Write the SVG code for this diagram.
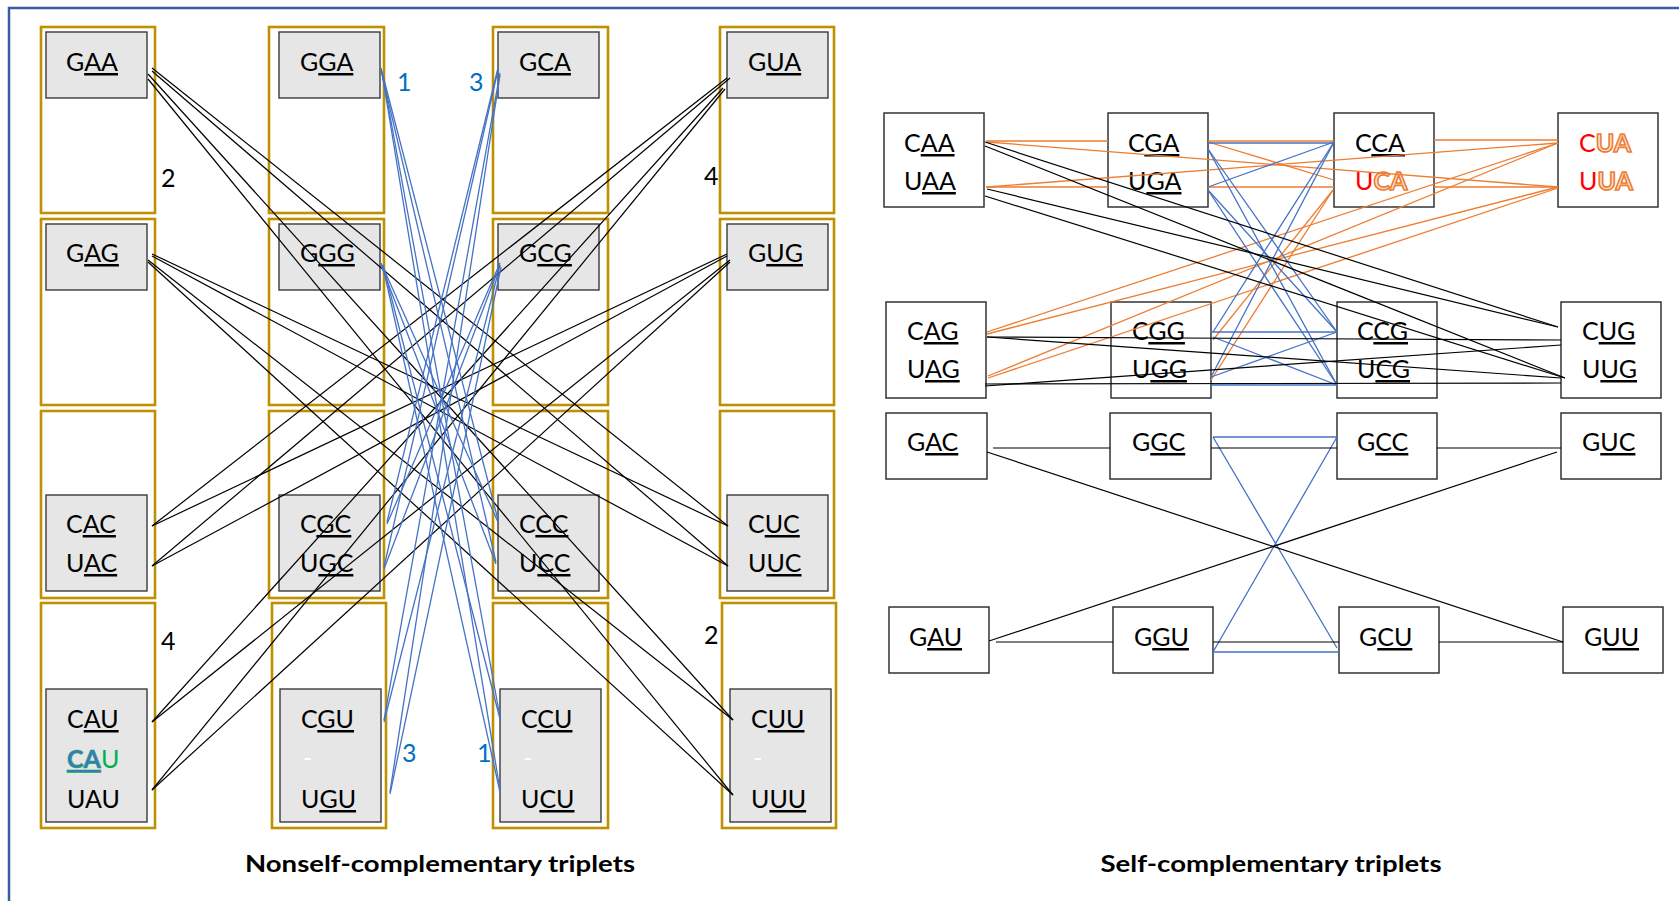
<svg xmlns="http://www.w3.org/2000/svg" width="1679" height="901" viewBox="0 0 1679 901">
<style>
.frame{fill:none;stroke:#3B5C9E;stroke-width:2.5}
.gold{fill:none;stroke:#BF9000;stroke-width:2.6}
.gray{fill:#E6E6E6;stroke:#3A3A3A;stroke-width:1.4}
.box{fill:#FFFFFF;stroke:#333333;stroke-width:1.5}
.t{font-family:Lato,"Liberation Sans",sans-serif;font-size:25px;fill:#000000}
.u{text-decoration:underline}
.num{font-family:Lato,"Liberation Sans",sans-serif;font-size:25px;fill:#000000}
.bnum{fill:#0070C0}
.title{font-family:Lato,"Liberation Sans",sans-serif;font-size:23px;font-weight:bold;fill:#000000}
.red{fill:#FF0000}
.ol{fill:#FCE4D6;stroke:#ED7D31;stroke-width:1.6;font-weight:bold}
.dash{fill:#FFFFFF}
.k line{stroke:#000000;stroke-width:1.2}
.b line{stroke:#4472C4;stroke-width:1.3}
.o line{stroke:#ED7D31;stroke-width:1.3}
</style>

<!-- outer frame -->
<rect class="frame" x="9" y="8" width="1690" height="910"/>

<!-- ===== nonself-complementary panel ===== -->
<g id="n-GAA"><rect class="gold" x="41" y="27" width="114" height="186"/><rect class="gray" x="46" y="32" width="101" height="66"/><text class="t" x="66" y="71">G<tspan class="u">AA</tspan></text></g>
<g id="n-GGA"><rect class="gold" x="269" y="27" width="115" height="186"/><rect class="gray" x="279" y="32" width="101" height="66"/><text class="t" x="300" y="71">G<tspan class="u">GA</tspan></text></g>
<g id="n-GCA"><rect class="gold" x="493" y="27" width="115" height="186"/><rect class="gray" x="498" y="32" width="101" height="66"/><text class="t" x="519" y="71">G<tspan class="u">CA</tspan></text></g>
<g id="n-GUA"><rect class="gold" x="720" y="27" width="114" height="186"/><rect class="gray" x="727" y="32" width="101" height="66"/><text class="t" x="748" y="71">G<tspan class="u">UA</tspan></text></g>

<g id="n-GAG"><rect class="gold" x="41" y="219" width="114" height="186"/><rect class="gray" x="46" y="224" width="101" height="66"/><text class="t" x="66" y="262">G<tspan class="u">AG</tspan></text></g>
<g id="n-GGG"><rect class="gold" x="269" y="219" width="115" height="186"/><rect class="gray" x="279" y="224" width="101" height="66"/><text class="t" x="300" y="262">G<tspan class="u">GG</tspan></text></g>
<g id="n-GCG"><rect class="gold" x="493" y="219" width="115" height="186"/><rect class="gray" x="498" y="224" width="101" height="66"/><text class="t" x="519" y="262">G<tspan class="u">CG</tspan></text></g>
<g id="n-GUG"><rect class="gold" x="720" y="219" width="114" height="186"/><rect class="gray" x="727" y="224" width="101" height="66"/><text class="t" x="748" y="262">G<tspan class="u">UG</tspan></text></g>

<g id="n-CAC"><rect class="gold" x="41" y="411" width="114" height="187"/><rect class="gray" x="46" y="495" width="101" height="96"/><text class="t" x="66" y="533">C<tspan class="u">AC</tspan></text><text class="t" x="66" y="572">U<tspan class="u">AC</tspan></text></g>
<g id="n-CGC"><rect class="gold" x="269" y="411" width="115" height="187"/><rect class="gray" x="279" y="495" width="101" height="96"/><text class="t" x="300" y="533">C<tspan class="u">GC</tspan></text><text class="t" x="300" y="572">U<tspan class="u">GC</tspan></text></g>
<g id="n-CCC"><rect class="gold" x="493" y="411" width="115" height="187"/><rect class="gray" x="498" y="495" width="101" height="96"/><text class="t" x="519" y="533">C<tspan class="u">CC</tspan></text><text class="t" x="519" y="572">U<tspan class="u">CC</tspan></text></g>
<g id="n-CUC"><rect class="gold" x="720" y="411" width="114" height="187"/><rect class="gray" x="727" y="495" width="101" height="96"/><text class="t" x="748" y="533">C<tspan class="u">UC</tspan></text><text class="t" x="748" y="572">U<tspan class="u">UC</tspan></text></g>

<g id="n-CAU"><rect class="gold" x="41" y="603" width="114" height="225"/><rect class="gray" x="46" y="689" width="101" height="133"/><text class="t" x="67" y="728">C<tspan class="u">AU</tspan></text><text class="t" x="67" y="768"><tspan class="u" font-weight="bold" fill="#4472C4" stroke="#00B050" stroke-width="0.6">CA</tspan><tspan fill="#00B050">U</tspan></text><text class="t" x="67" y="808">UAU</text></g>
<g id="n-CGU"><rect class="gold" x="272" y="603" width="114" height="225"/><rect class="gray" x="280" y="689" width="101" height="133"/><text class="t" x="301" y="728">C<tspan class="u">GU</tspan></text><text class="t dash" x="303" y="767">-</text><text class="t" x="301" y="808">U<tspan class="u">GU</tspan></text></g>
<g id="n-CCU"><rect class="gold" x="493" y="603" width="115" height="225"/><rect class="gray" x="500" y="689" width="101" height="133"/><text class="t" x="521" y="728">C<tspan class="u">CU</tspan></text><text class="t dash" x="523" y="767">-</text><text class="t" x="521" y="808">U<tspan class="u">CU</tspan></text></g>
<g id="n-CUU"><rect class="gold" x="722" y="603" width="114" height="225"/><rect class="gray" x="730" y="689" width="101" height="133"/><text class="t" x="751" y="728">C<tspan class="u">UU</tspan></text><text class="t dash" x="753" y="767">-</text><text class="t" x="751" y="808">U<tspan class="u">UU</tspan></text></g>

<!-- group counts -->
<g id="counts">
<text class="num" x="161" y="187">2</text>
<text class="num" x="704" y="185">4</text>
<text class="num" x="161" y="650">4</text>
<text class="num" x="704" y="644">2</text>
<text class="num bnum" x="397" y="91">1</text>
<text class="num bnum" x="469" y="91">3</text>
<text class="num bnum" x="402" y="762">3</text>
<text class="num bnum" x="477" y="762">1</text>
</g>

<!-- ===== self-complementary panel ===== -->
<g id="n-CAA"><rect class="box" x="884" y="113" width="100" height="94"/><text class="t" x="904" y="152">C<tspan class="u">AA</tspan></text><text class="t" x="904" y="190">U<tspan class="u">AA</tspan></text></g>
<g id="n-CGA"><rect class="box" x="1108" y="113" width="100" height="94"/><text class="t" x="1128" y="152">C<tspan class="u">GA</tspan></text><text class="t" x="1128" y="190">U<tspan class="u">GA</tspan></text></g>
<g id="n-CCA"><rect class="box" x="1334" y="113" width="100" height="94"/><text class="t" x="1355" y="152">C<tspan class="u">CA</tspan></text><text class="t" x="1355" y="190"><tspan class="red">U</tspan><tspan class="ol">CA</tspan></text></g>
<g id="n-CUA"><rect class="box" x="1558" y="113" width="100" height="94"/><text class="t" x="1579" y="152"><tspan class="red">C</tspan><tspan class="ol">UA</tspan></text><text class="t" x="1579" y="190"><tspan class="red">U</tspan><tspan class="ol">UA</tspan></text></g>

<g id="n-CAG"><rect class="box" x="886" y="302" width="100" height="96"/><text class="t" x="907" y="340">C<tspan class="u">AG</tspan></text><text class="t" x="907" y="378">U<tspan class="u">AG</tspan></text></g>
<g id="n-CGG"><rect class="box" x="1111" y="302" width="100" height="96"/><text class="t" x="1132" y="340">C<tspan class="u">GG</tspan></text><text class="t" x="1132" y="378">U<tspan class="u">GG</tspan></text></g>
<g id="n-CCG"><rect class="box" x="1337" y="302" width="100" height="96"/><text class="t" x="1357" y="340">C<tspan class="u">CG</tspan></text><text class="t" x="1357" y="378">U<tspan class="u">CG</tspan></text></g>
<g id="n-CUG"><rect class="box" x="1561" y="302" width="100" height="96"/><text class="t" x="1582" y="340">C<tspan class="u">UG</tspan></text><text class="t" x="1582" y="378">U<tspan class="u">UG</tspan></text></g>

<g id="n-GAC"><rect class="box" x="886" y="413" width="101" height="66"/><text class="t" x="907" y="451">G<tspan class="u">AC</tspan></text></g>
<g id="n-GGC"><rect class="box" x="1110" y="413" width="101" height="66"/><text class="t" x="1132" y="451">G<tspan class="u">GC</tspan></text></g>
<g id="n-GCC"><rect class="box" x="1337" y="413" width="100" height="66"/><text class="t" x="1357" y="451">G<tspan class="u">CC</tspan></text></g>
<g id="n-GUC"><rect class="box" x="1561" y="413" width="100" height="66"/><text class="t" x="1582" y="451">G<tspan class="u">UC</tspan></text></g>

<g id="n-GAU"><rect class="box" x="889" y="607" width="100" height="66"/><text class="t" x="909" y="646">G<tspan class="u">AU</tspan></text></g>
<g id="n-GGU"><rect class="box" x="1113" y="607" width="100" height="66"/><text class="t" x="1134" y="646">G<tspan class="u">GU</tspan></text></g>
<g id="n-GCU"><rect class="box" x="1339" y="607" width="100" height="66"/><text class="t" x="1359" y="646">G<tspan class="u">CU</tspan></text></g>
<g id="n-GUU"><rect class="box" x="1563" y="607" width="100" height="66"/><text class="t" x="1584" y="646">G<tspan class="u">UU</tspan></text></g>

<!-- panel captions -->
<text class="title" x="440" y="872" text-anchor="middle" textLength="390" lengthAdjust="spacingAndGlyphs">Nonself-complementary triplets</text>
<text class="title" x="1271" y="872" text-anchor="middle" textLength="341" lengthAdjust="spacingAndGlyphs">Self-complementary triplets</text>

<!-- ===== connectors ===== -->
<g id="connectors">
 <!-- left panel: black pairings -->
 <g class="k">
  <line x1="152" y1="68" x2="728" y2="526"/>
  <line x1="152" y1="71" x2="728" y2="566"/>
  <line x1="148" y1="74" x2="733" y2="720"/>
  <line x1="148" y1="79" x2="733" y2="795"/>
  <line x1="152" y1="254" x2="728" y2="526"/>
  <line x1="152" y1="256" x2="728" y2="566"/>
  <line x1="148" y1="260" x2="733" y2="720"/>
  <line x1="148" y1="262" x2="733" y2="795"/>
  <line x1="152" y1="526" x2="727" y2="78"/>
  <line x1="152" y1="526" x2="727" y2="254"/>
  <line x1="152" y1="566" x2="730" y2="78"/>
  <line x1="152" y1="566" x2="727" y2="256"/>
  <line x1="152" y1="722" x2="723" y2="88"/>
  <line x1="152" y1="722" x2="730" y2="260"/>
  <line x1="152" y1="790" x2="725" y2="89"/>
  <line x1="152" y1="790" x2="730" y2="262"/>
 </g>
 <!-- left panel: blue pairings -->
 <g class="b">
  <line x1="381" y1="68" x2="498" y2="520"/>
  <line x1="381" y1="70" x2="496" y2="562"/>
  <line x1="382" y1="72" x2="500" y2="717"/>
  <line x1="382" y1="73" x2="500" y2="790"/>
  <line x1="381" y1="263" x2="498" y2="522"/>
  <line x1="381" y1="265" x2="496" y2="564"/>
  <line x1="383" y1="265" x2="500" y2="719"/>
  <line x1="383" y1="267" x2="500" y2="792"/>
  <line x1="498" y1="68" x2="387" y2="522"/>
  <line x1="498" y1="70" x2="384" y2="567"/>
  <line x1="500" y1="73" x2="384" y2="720"/>
  <line x1="500" y1="75" x2="390" y2="792"/>
  <line x1="500" y1="263" x2="387" y2="524"/>
  <line x1="500" y1="265" x2="384" y2="569"/>
  <line x1="500" y1="265" x2="384" y2="722"/>
  <line x1="501" y1="267" x2="390" y2="794"/>
 </g>
 <!-- right panel: orange -->
 <g class="o">
  <line x1="986" y1="141" x2="1108" y2="141"/>
  <line x1="1208" y1="141" x2="1334" y2="141"/>
  <line x1="1434" y1="140" x2="1558" y2="140"/>
  <line x1="986" y1="187" x2="1108" y2="187"/>
  <line x1="1208" y1="187" x2="1334" y2="187"/>
  <line x1="1434" y1="187" x2="1558" y2="187"/>
  <line x1="987" y1="142" x2="1558" y2="187"/>
  <line x1="987" y1="187" x2="1558" y2="143"/>
  <line x1="1208" y1="142" x2="1334" y2="180"/>
  <line x1="987" y1="332" x2="1558" y2="143"/>
  <line x1="987" y1="334" x2="1558" y2="187"/>
  <line x1="988" y1="376" x2="1558" y2="143"/>
  <line x1="988" y1="378" x2="1558" y2="188"/>
  <line x1="1213" y1="340" x2="1333" y2="190"/>
  <line x1="1211" y1="380" x2="1333" y2="190"/>
 </g>
 <!-- right panel: blue -->
 <g class="b">
  <line x1="1208" y1="143" x2="1334" y2="143"/>
  <line x1="1208" y1="187" x2="1334" y2="142"/>
  <line x1="1208" y1="149" x2="1337" y2="332"/>
  <line x1="1208" y1="149" x2="1337" y2="385"/>
  <line x1="1208" y1="190" x2="1337" y2="332"/>
  <line x1="1208" y1="190" x2="1337" y2="385"/>
  <line x1="1211" y1="332" x2="1337" y2="332"/>
  <line x1="1211" y1="385" x2="1337" y2="385"/>
  <line x1="1213" y1="337" x2="1337" y2="385"/>
  <line x1="1211" y1="377" x2="1337" y2="332"/>
  <line x1="1213" y1="332" x2="1334" y2="142"/>
  <line x1="1211" y1="377" x2="1334" y2="142"/>
  <line x1="1213" y1="437" x2="1337" y2="437"/>
  <line x1="1213" y1="437" x2="1337" y2="648"/>
  <line x1="1337" y1="437" x2="1213" y2="652"/>
  <line x1="1213" y1="652" x2="1339" y2="652"/>
 </g>
 <!-- right panel: black -->
 <g class="k">
  <line x1="985" y1="142" x2="1558" y2="327"/>
  <line x1="985" y1="146" x2="1565" y2="378"/>
  <line x1="987" y1="189" x2="1558" y2="327"/>
  <line x1="985" y1="196" x2="1565" y2="378"/>
  <line x1="987" y1="337" x2="1561" y2="340"/>
  <line x1="987" y1="337" x2="1561" y2="378"/>
  <line x1="985" y1="386" x2="1561" y2="345"/>
  <line x1="985" y1="384" x2="1561" y2="383"/>
  <line x1="993" y1="448" x2="1110" y2="448"/>
  <line x1="1211" y1="448" x2="1337" y2="448"/>
  <line x1="1437" y1="448" x2="1561" y2="448"/>
  <line x1="987" y1="452" x2="1563" y2="642"/>
  <line x1="989" y1="641" x2="1557" y2="452"/>
  <line x1="996" y1="642" x2="1113" y2="642"/>
  <line x1="1213" y1="642" x2="1339" y2="642"/>
  <line x1="1439" y1="642" x2="1563" y2="642"/>
 </g>
</g>
</svg>
